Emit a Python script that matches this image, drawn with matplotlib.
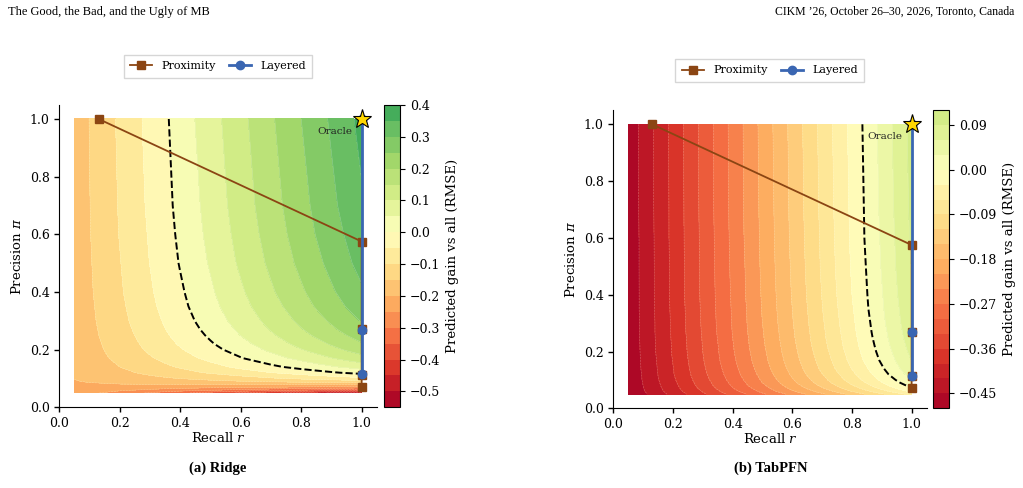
import numpy as np
import matplotlib
matplotlib.use("Agg")
import matplotlib.pyplot as plt
from matplotlib.colors import Normalize

plt.rcParams['font.family'] = 'DejaVu Serif'
plt.rcParams['mathtext.fontset'] = 'dejavuserif'

# ==== grid of the predicted-gain surfaces ====
recall_grid = [0.05, 0.1, 0.2, 0.3, 0.35, 0.4, 0.45, 0.5, 0.6, 0.7, 0.8,
               0.85, 0.9, 0.95, 1.0]
precision_grid = [0.05, 0.06, 0.07, 0.08, 0.09, 0.10, 0.12, 0.14, 0.17,
                  0.20, 0.22, 0.25, 0.27, 0.30, 0.35, 0.40, 0.50, 0.60,
                  0.70, 1.00]

# rows = precision_grid, columns = recall_grid
ridge_gain = [
    [-0.223, -0.239, -0.273, -0.306, -0.322, -0.339, -0.356, -0.372, -0.406, -0.439, -0.472, -0.489, -0.505, -0.522, -0.539],
    [-0.215, -0.223, -0.241, -0.258, -0.267, -0.276, -0.284, -0.293, -0.311, -0.328, -0.345, -0.354, -0.363, -0.372, -0.380],
    [-0.209, -0.212, -0.218, -0.224, -0.227, -0.230, -0.233, -0.237, -0.243, -0.249, -0.255, -0.258, -0.261, -0.264, -0.267],
    [-0.205, -0.204, -0.201, -0.199, -0.198, -0.197, -0.195, -0.194, -0.192, -0.189, -0.187, -0.186, -0.185, -0.183, -0.182],
    [-0.202, -0.197, -0.188, -0.179, -0.175, -0.170, -0.166, -0.161, -0.152, -0.143, -0.134, -0.130, -0.125, -0.121, -0.116],
    [-0.199, -0.192, -0.178, -0.163, -0.156, -0.149, -0.142, -0.135, -0.121, -0.106, -0.092, -0.085, -0.078, -0.071, -0.064],
    [-0.195, -0.184, -0.162, -0.139, -0.128, -0.117, -0.106, -0.095, -0.073, -0.051, -0.029, -0.018, -0.006, 0.005, 0.016],
    [-0.192, -0.178, -0.150, -0.123, -0.109, -0.095, -0.081, -0.067, -0.039, -0.011, 0.017, 0.031, 0.044, 0.058, 0.072],
    [-0.189, -0.172, -0.138, -0.105, -0.088, -0.071, -0.054, -0.037, -0.003, 0.031, 0.064, 0.081, 0.098, 0.115, 0.132],
    [-0.187, -0.168, -0.130, -0.092, -0.073, -0.054, -0.035, -0.016, 0.022, 0.060, 0.098, 0.117, 0.136, 0.155, 0.174],
    [-0.186, -0.166, -0.126, -0.086, -0.065, -0.045, -0.025, -0.005, 0.035, 0.075, 0.115, 0.135, 0.155, 0.176, 0.196],
    [-0.185, -0.163, -0.121, -0.078, -0.056, -0.035, -0.014, 0.008, 0.051, 0.093, 0.136, 0.157, 0.179, 0.200, 0.222],
    [-0.184, -0.162, -0.118, -0.074, -0.051, -0.029, -0.007, 0.015, 0.059, 0.103, 0.147, 0.169, 0.191, 0.214, 0.236],
    [-0.183, -0.160, -0.114, -0.068, -0.045, -0.022, 0.001, 0.024, 0.070, 0.115, 0.161, 0.184, 0.207, 0.230, 0.253],
    [-0.182, -0.158, -0.110, -0.061, -0.037, -0.013, 0.011, 0.035, 0.083, 0.131, 0.179, 0.204, 0.228, 0.252, 0.276],
    [-0.181, -0.156, -0.106, -0.056, -0.031, -0.007, 0.018, 0.043, 0.093, 0.143, 0.193, 0.218, 0.243, 0.268, 0.293],
    [-0.180, -0.154, -0.102, -0.049, -0.023, 0.003, 0.029, 0.055, 0.108, 0.160, 0.212, 0.238, 0.264, 0.290, 0.317],
    [-0.179, -0.152, -0.098, -0.045, -0.018, 0.009, 0.036, 0.063, 0.117, 0.171, 0.225, 0.252, 0.278, 0.305, 0.332],
    [-0.179, -0.151, -0.096, -0.041, -0.014, 0.014, 0.041, 0.069, 0.124, 0.179, 0.234, 0.261, 0.289, 0.316, 0.344],
    [-0.178, -0.149, -0.092, -0.035, -0.007, 0.022, 0.051, 0.079, 0.136, 0.193, 0.250, 0.279, 0.307, 0.336, 0.364],
]

tabpfn_gain = [
    [-0.478, -0.456, -0.411, -0.365, -0.343, -0.320, -0.298, -0.275, -0.230, -0.185, -0.140, -0.117, -0.094, -0.072, -0.049],
    [-0.477, -0.453, -0.405, -0.358, -0.334, -0.310, -0.286, -0.262, -0.214, -0.167, -0.119, -0.095, -0.071, -0.047, -0.023],
    [-0.476, -0.451, -0.402, -0.352, -0.327, -0.302, -0.278, -0.253, -0.203, -0.154, -0.104, -0.079, -0.054, -0.029, -0.005],
    [-0.475, -0.450, -0.399, -0.348, -0.322, -0.297, -0.271, -0.246, -0.195, -0.144, -0.093, -0.067, -0.042, -0.016, 0.009],
    [-0.475, -0.449, -0.397, -0.345, -0.319, -0.293, -0.267, -0.240, -0.188, -0.136, -0.084, -0.058, -0.032, -0.006, 0.020],
    [-0.475, -0.448, -0.395, -0.342, -0.316, -0.289, -0.263, -0.236, -0.183, -0.130, -0.077, -0.051, -0.024, 0.002, 0.029],
    [-0.474, -0.447, -0.392, -0.338, -0.311, -0.284, -0.257, -0.230, -0.175, -0.121, -0.067, -0.040, -0.012, 0.015, 0.042],
    [-0.473, -0.446, -0.391, -0.335, -0.308, -0.280, -0.253, -0.225, -0.170, -0.114, -0.059, -0.032, -0.004, 0.024, 0.051],
    [-0.473, -0.445, -0.389, -0.332, -0.304, -0.276, -0.248, -0.220, -0.164, -0.108, -0.051, -0.023, 0.005, 0.033, 0.061],
    [-0.473, -0.444, -0.387, -0.330, -0.302, -0.273, -0.245, -0.217, -0.160, -0.103, -0.046, -0.018, 0.011, 0.039, 0.068],
    [-0.472, -0.444, -0.387, -0.329, -0.301, -0.272, -0.243, -0.215, -0.158, -0.100, -0.043, -0.015, 0.014, 0.043, 0.071],
    [-0.472, -0.443, -0.386, -0.328, -0.299, -0.270, -0.242, -0.213, -0.155, -0.097, -0.040, -0.011, 0.018, 0.047, 0.076],
    [-0.472, -0.443, -0.385, -0.327, -0.298, -0.269, -0.240, -0.212, -0.154, -0.096, -0.038, -0.009, 0.020, 0.049, 0.078],
    [-0.472, -0.443, -0.385, -0.326, -0.297, -0.268, -0.239, -0.210, -0.152, -0.094, -0.036, -0.007, 0.023, 0.052, 0.081],
    [-0.472, -0.442, -0.384, -0.325, -0.296, -0.267, -0.238, -0.208, -0.150, -0.091, -0.033, -0.003, 0.026, 0.055, 0.085],
    [-0.472, -0.442, -0.383, -0.324, -0.295, -0.266, -0.236, -0.207, -0.148, -0.089, -0.030, -0.001, 0.028, 0.058, 0.087],
    [-0.471, -0.442, -0.383, -0.323, -0.294, -0.264, -0.235, -0.205, -0.146, -0.086, -0.027, 0.002, 0.032, 0.062, 0.091],
    [-0.471, -0.442, -0.382, -0.323, -0.293, -0.263, -0.233, -0.204, -0.144, -0.085, -0.025, 0.005, 0.034, 0.064, 0.094],
    [-0.471, -0.441, -0.382, -0.322, -0.292, -0.262, -0.232, -0.203, -0.143, -0.083, -0.024, 0.006, 0.036, 0.066, 0.096],
    [-0.471, -0.441, -0.381, -0.321, -0.291, -0.261, -0.231, -0.201, -0.141, -0.081, -0.021, 0.009, 0.039, 0.069, 0.099],
]

# ==== operating points ====
proximity_recall = [0.13, 1.0, 1.0, 1.0, 1.0]
proximity_precision = [1.0, 0.575, 0.27, 0.112, 0.07]
layered_recall = [1.0, 1.0, 1.0]
layered_precision = [1.0, 0.268, 0.114]
oracle_recall = [1.0]
oracle_precision = [1.0]

ridge_levels = np.linspace(-0.55, 0.40, 20)
tabpfn_levels = np.linspace(-0.48, 0.12, 21)
ridge_ticks = [-0.5, -0.4, -0.3, -0.2, -0.1, 0.0, 0.1, 0.2, 0.3, 0.4]
tabpfn_ticks = [-0.45, -0.36, -0.27, -0.18, -0.09, 0.0, 0.09]

BROWN = '#8B4513'
BLUE = '#3a66b2'


def draw_panel(ax, cax, gain, levels, vlim, ticks, legend_y):
    Z = np.array(gain)
    norm = Normalize(-vlim, vlim)
    cf = ax.contourf(recall_grid, precision_grid, Z, levels=levels,
                     cmap='RdYlGn', norm=norm)
    ax.contour(recall_grid, precision_grid, Z, levels=levels,
               colors='white', linewidths=0.4, alpha=0.3)
    ax.contour(recall_grid, precision_grid, Z, levels=[0.0],
               colors='black', linestyles='--', linewidths=1.4)

    ax.plot(proximity_recall, proximity_precision, '-s', color=BROWN,
            lw=1.3, ms=5.5, label='Proximity', zorder=4)
    ax.plot(layered_recall, layered_precision, '-o', color=BLUE,
            lw=2.0, ms=6, label='Layered', zorder=5)
    ax.plot(oracle_recall, oracle_precision, '*', color='#FFD700',
            mec='black', mew=0.8, ms=14, zorder=6, clip_on=False)
    ax.text(0.97, 0.958, 'Oracle', ha='right', va='center', fontsize=7.5,
            color='#222222', zorder=6)

    ax.set_xlim(0, 1.05)
    ax.set_ylim(0, 1.05)
    ax.set_xticks([0, 0.2, 0.4, 0.6, 0.8, 1.0])
    ax.set_yticks([0, 0.2, 0.4, 0.6, 0.8, 1.0])
    ax.tick_params(labelsize=9, length=3.5, width=1)
    ax.spines['right'].set_visible(False)
    ax.spines['top'].set_visible(False)
    ax.set_xlabel('Recall $r$', fontsize=9.5, labelpad=1)
    ax.set_ylabel(r'Precision $\pi$', fontsize=9.5)
    ax.legend(loc='lower center', bbox_to_anchor=(0.5, legend_y), ncol=2,
              fontsize=8, frameon=True, fancybox=False, edgecolor='#cccccc',
              handlelength=2.0, borderpad=0.6, columnspacing=1.2,
              borderaxespad=0)

    cb = plt.colorbar(cf, cax=cax)
    cb.set_ticks(ticks)
    cb.ax.tick_params(labelsize=9, length=3.5)
    cb.outline.set_linewidth(0.8)
    cb.set_label('Predicted gain vs all (RMSE)', fontsize=9.5)


fig = plt.figure(figsize=(10.23, 4.88), dpi=100)
ax1 = fig.add_axes([0.058, 0.1654, 0.3103, 0.6203])
cax1 = fig.add_axes([0.3757, 0.1654, 0.0153, 0.6195])
ax2 = fig.add_axes([0.5995, 0.1633, 0.3062, 0.6111])
cax2 = fig.add_axes([0.9123, 0.1633, 0.0153, 0.6111])

draw_panel(ax1, cax1, ridge_gain, ridge_levels, 0.55, ridge_ticks, 1.088)
draw_panel(ax2, cax2, tabpfn_gain, tabpfn_levels, 0.48, tabpfn_ticks, 1.094)

fig.text(0.008, 0.975, 'The Good, the Bad, and the Ugly of MB',
         fontfamily='Liberation Serif', fontsize=9, ha='left', va='center')
fig.text(0.992, 0.975, 'CIKM \u201926, October 26\u201330, 2026, Toronto, Canada',
         fontfamily='Liberation Serif', fontsize=8.5, ha='right', va='center')
fig.text(0.213, 0.04, '(a) Ridge', fontfamily='Liberation Serif',
         fontweight='bold', fontsize=10.5, ha='center', va='center')
fig.text(0.753, 0.04, '(b) TabPFN', fontfamily='Liberation Serif',
         fontweight='bold', fontsize=10.5, ha='center', va='center')

fig.savefig('out.png', dpi=100)
